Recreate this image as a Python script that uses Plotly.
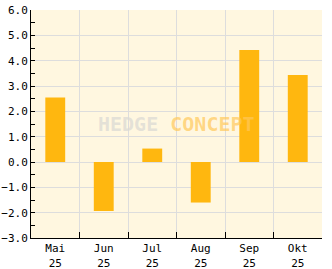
import plotly.graph_objects as go

months = ["Mai<br>25", "Jun<br>25", "Jul<br>25", "Aug<br>25", "Sep<br>25", "Okt<br>25"]
values = [2.55, -1.93, 0.53, -1.6, 4.42, 3.43]
y_ticks = [-3, -2, -1, 0, 1, 2, 3, 4, 5, 6]

fig = go.Figure()
fig.add_trace(go.Bar(x=months, y=values, marker=dict(color="#FFB70F", line=dict(width=0)),
                     width=0.41))

font = dict(family="DejaVu Sans Mono", size=11, color="#000000")
fig.update_layout(
    width=332, height=269,
    margin=dict(l=31, r=10, t=10, b=31, autoexpand=False),
    paper_bgcolor="#FFFFFF", plot_bgcolor="#FFF7E0",
    showlegend=False, font=font,
    xaxis=dict(type="category", tickson="boundaries", ticks="inside", ticklen=6,
               tickcolor="#000000", showline=True, linecolor="#000000", linewidth=1,
               showgrid=True, gridcolor="#DDDDDD", gridwidth=1, tickfont=font,
               range=[-0.5, 5.5], automargin=False),
    yaxis=dict(range=[-3, 6], tickvals=y_ticks, tickformat=".1f", ticks="inside", ticklen=4,
               tickcolor="#000000", showline=True, linecolor="#000000", linewidth=1,
               showgrid=True, gridcolor="#DDDDDD", zeroline=True, zerolinecolor="#DDDDDD",
               zerolinewidth=1, tickfont=font, automargin=False,
               minor=dict(dtick=0.5, ticks="inside", ticklen=4, tickcolor="#000000", showgrid=False)),
    annotations=[dict(x=0.5, y=0.5, xref="paper", yref="paper", showarrow=False,
                      text="<b><span style='color:rgba(220,218,212,0.75)'>HEDGE</span> <span style='color:rgba(255,200,90,0.7)'>CONCEPT</span></b>",
                      font=dict(family="DejaVu Sans Mono", size=20), xanchor="center", yanchor="middle")],
)
fig.write_html("out.html")
